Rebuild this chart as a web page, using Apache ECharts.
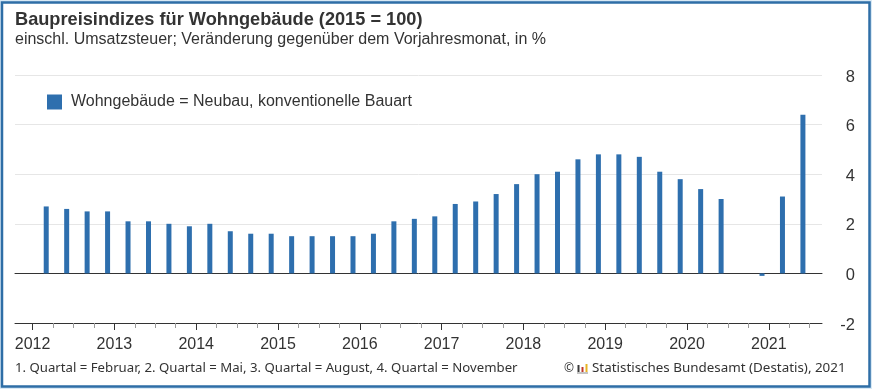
<!DOCTYPE html>
<html><head><meta charset="utf-8">
<script src="https://cdn.jsdelivr.net/npm/echarts@6/dist/echarts.min.js"></script>
<style>html,body{margin:0;padding:0;background:#d8e9f5}#c{width:872px;height:389px}</style>
</head><body><div id="c"></div>
<script>
const titleText = 'Baupreisindizes für Wohngebäude (2015 = 100)';
const subtitleText = 'einschl. Umsatzsteuer; Veränderung gegenüber dem Vorjahresmonat, in %';
const seriesName = 'Wohngebäude = Neubau, konventionelle Bauart';
const footLeft = '1. Quartal = Februar, 2. Quartal = Mai, 3. Quartal = August, 4. Quartal = November';
const footRight = 'Statistisches Bundesamt (Destatis), 2021';
const years = [2012,2013,2014,2015,2016,2017,2018,2019,2020,2021];
const monthFractions = [2/12,5/12,8/12,11/12];
const values = [2.7,2.6,2.5,2.5, 2.1,2.1,2.0,1.9, 2.0,1.7,1.6,1.6, 1.5,1.5,1.5,1.5, 1.6,2.1,2.2,2.3,
  2.8,2.9,3.2,3.6, 4.0,4.1,4.6,4.8, 4.8,4.7,4.1,3.8, 3.4,3.0,0,-0.1, 3.1,6.4];
const yearTicks = years.slice();
const quarterTicks = [];
years.forEach(y => [0.25,0.5,0.75].forEach(q => { if (y + q < 2021.62) quarterTicks.push(y + q); }));
const points = values.map((v,i) => [years[0] + Math.floor(i/4) + monthFractions[i%4], v]);
const ink = '#333333', blue = '#2e6fae';
const chart = echarts.init(document.getElementById('c'), null, {renderer:'canvas'});
const xMin = 2011.785, xMax = 2021.65;
chart.setOption({
  animation:false,
  backgroundColor:'#d8e9f5',
  grid:{left:15, right:50, top:75, bottom:66},
  title:[
    {text:titleText,left:10,top:6,textStyle:{fontFamily:'Liberation Sans',fontWeight:'bold',fontSize:18.2,color:ink}},
    {text:subtitleText,left:10,top:27,textStyle:{fontFamily:'Liberation Sans',fontWeight:'normal',fontSize:16,color:ink}}
  ],
  legend:{left:42,top:89,icon:'rect',itemWidth:15,itemHeight:15,itemGap:8,data:[seriesName],
    textStyle:{fontFamily:'Liberation Sans',fontSize:16,color:ink,padding:[2,0,0,4]}},
  xAxis:[
    {type:'value',min:xMin,max:xMax,position:'bottom',splitLine:{show:false},
     axisLine:{onZero:false,lineStyle:{color:'#333',width:1}},
     axisTick:{show:true,length:7,customValues:yearTicks,lineStyle:{color:'#333'}},
     axisLabel:{customValues:yearTicks,formatter:v=>String(Math.round(v)),fontFamily:'Liberation Sans',fontSize:16,color:ink,margin:14,hideOverlap:false}},
    {type:'value',min:xMin,max:xMax,position:'bottom',splitLine:{show:false},
     axisLine:{show:false,onZero:false},
     axisTick:{show:true,length:5,customValues:quarterTicks,lineStyle:{color:'#999'}},
     axisLabel:{show:false}},
    {type:'value',min:xMin,max:xMax,position:'bottom',splitLine:{show:false},
     axisLine:{show:true,onZero:true,lineStyle:{color:'#333',width:1}},
     axisTick:{show:false},axisLabel:{show:false}}
  ],
  yAxis:{type:'value',min:-2,max:8,interval:2,position:'right',
    axisLine:{show:false},axisTick:{show:false},
    splitLine:{lineStyle:{color:'#e6e6e6',width:1}},
    axisLabel:{fontFamily:'Liberation Sans',fontSize:16.5,color:ink,align:'right',margin:33,verticalAlign:'top',lineHeight:4}},
  series:[{name:seriesName,type:'bar',barWidth:5,itemStyle:{color:blue},data:points,xAxisIndex:0,z:5}],
  graphic:[
    {type:'rect',silent:true,z:-1,shape:{x:2,y:2.5,width:867.5,height:384},style:{fill:'#fff',stroke:'#2e6ea6',lineWidth:2.5}},
    {type:'text',left:15,top:362,style:{text:footLeft,fontFamily:'Noto Sans',fontSize:13.2,fill:ink}},
    {type:'text',left:564,top:363,style:{text:'©',fontFamily:'Noto Sans',fontSize:12,fill:ink}},
    {type:'rect',shape:{x:577.5,y:365,width:2,height:7},style:{fill:'#3a3a3a'}},
    {type:'rect',shape:{x:581.5,y:367,width:2,height:5},style:{fill:'#c0392b'}},
    {type:'rect',shape:{x:585.5,y:364,width:2,height:8},style:{fill:'#e8b322'}},
    {type:'rect',shape:{x:577,y:372,width:11,height:2},style:{fill:'#c4c4c4'}},
    {type:'text',left:592,top:362,style:{text:footRight,fontFamily:'Noto Sans',fontSize:13.4,fill:ink}}
  ]
});
</script></body></html>
